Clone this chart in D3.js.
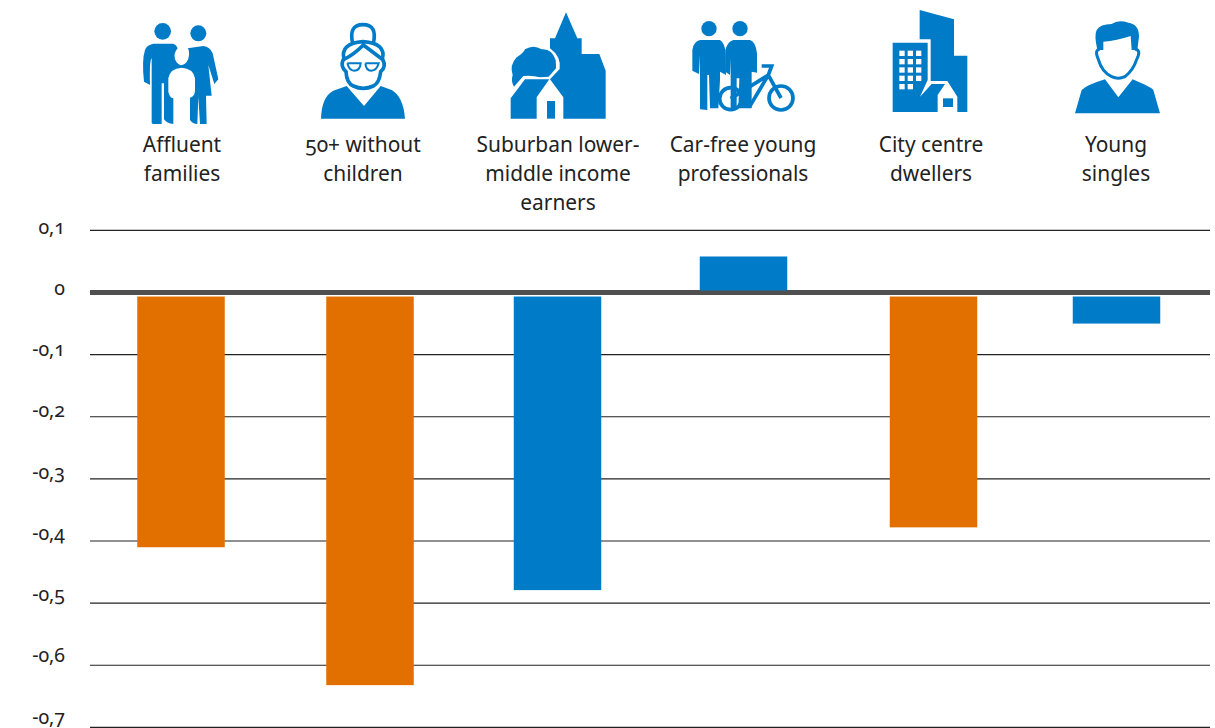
<!DOCTYPE html>
<html><head><meta charset="utf-8">
<script src="https://cdn.jsdelivr.net/npm/d3@7"></script>
<style>
html,body{margin:0;padding:0;background:#fff}
svg{display:block}
text{font-family:"Noto Sans","Open Sans",sans-serif;fill:#222;font-feature-settings:"onum" 1;font-variant-numeric:oldstyle-nums}
</style></head><body><svg id="c" width="1215" height="728"></svg>
<script>
const categories=["Affluent families","50+ without children","Suburban lower-middle income earners","Car-free young professionals","City centre dwellers","Young singles"];
const labelLines=[["Affluent","families"],["50+ without","children"],["Suburban lower-","middle income","earners"],["Car-free young","professionals"],["City centre","dwellers"],["Young","singles"]];
const values=[-0.41,-0.632,-0.479,0.058,-0.378,-0.05];
const barColors=["#e17000","#e17000","#007bc7","#007bc7","#e17000","#007bc7"];
const ticks=[0.1,0,-0.1,-0.2,-0.3,-0.4,-0.5,-0.6,-0.7];
const tickLabels=["0,1","0","-0,1","-0,2","-0,3","-0,4","-0,5","-0,6","-0,7"];
const barCentres=[181,370,557.5,743.5,933.5,1116.5];
const labelCentres=[182,363,558,743,931,1116];
const barWidth=87.5, barGap=4;

const svg=d3.select("#c");
const y=d3.scaleLinear().domain([0.1,-0.7]).range([230.4,727.4]);
const yLabel=d3.scaleLinear().domain([0.1,-0.7]).range([233.5,723.5]);

svg.append("g").selectAll("line").data(ticks).join("line")
  .attr("x1",90).attr("x2",1210)
  .attr("y1",d=>y(d)).attr("y2",d=>y(d))
  .attr("stroke",d=>d===0?"#4f4f4f":"#222")
  .attr("stroke-width",d=>d===0?5:1.1);

svg.append("g").selectAll("rect").data(values).join("rect")
  .attr("x",(d,i)=>barCentres[i]-barWidth/2)
  .attr("width",barWidth)
  .attr("y",d=>d<0?y(0)+barGap:y(d))
  .attr("height",d=>d<0?y(d)-y(0)-barGap:y(0)-y(d)-2)
  .attr("fill",(d,i)=>barColors[i]);

svg.append("g").selectAll("text").data(ticks).join("text")
  .attr("x",65).attr("text-anchor","end").attr("y",d=>yLabel(d))
  .attr("font-size",19.5).text((d,i)=>tickLabels[i]);

const lab=svg.append("g").selectAll("g").data(labelLines).join("g");
lab.selectAll("text").data((d,i)=>d.map(t=>({t,x:labelCentres[i]}))).join("text")
  .attr("x",d=>d.x).attr("text-anchor","middle")
  .attr("y",(d,j)=>151.6+29*j).attr("font-size",20.9).text(d=>d.t);

// Pictograms, drawn in a 3x local grid
const B="#007bc7";
const icons=svg.append("g");
function icon(ox){return icons.append("g").attr("transform",`translate(${ox},0) scale(${1/3})`).attr("fill",B);}
function c(g,x,y,r,f){g.append("circle").attr("cx",x).attr("cy",y).attr("r",r).attr("fill",f||B);}
function p(g,d,o){const e=g.append("path").attr("d",d);if(o)Object.entries(o).forEach(([k,v])=>e.attr(k,v));return e;}

// family
let g=icon(120);
c(g,128,94,25);c(g,235,100,24);
p(g,"M100,131 H160 Q170,135 173,145 Q160,160 165,178 Q172,195 185,196 Q205,190 207,165 Q208,150 203,145 L250,138 Q270,140 278,160 L295,238 L283,252 L265,195 L275,287 H258 L260,372 H240 L235,290 L232,372 Q218,372 210,360 V293 Q225,290 225,270 V235 Q220,205 185,203 Q150,205 145,235 V275 Q148,292 160,295 V372 Q140,370 132,358 V250 H125 V372 H105 Q95,372 95,368 V175 Q88,180 90,255 L72,245 Q65,180 75,150 Q80,135 100,131 Z");

// grandma
g=icon(120);
const sw={fill:"none",stroke:B,"stroke-width":11};
p(g,"M603,356 Q605,290 640,272 L680,258 L732,318 L782,258 L815,270 Q850,290 855,356 Z");
p(g,"M698,130 Q685,74 729,74 Q773,74 760,130",sw);
p(g,"M672,178 Q660,130 729,125 Q800,130 787,178 Q770,165 730,135 Q700,165 672,178 Z",sw);
p(g,"M670,178 Q660,200 678,215 Q680,250 700,258 Q730,272 760,258 Q778,250 782,215 Q800,200 788,178",sw);
p(g,"M682,190 H722 Q720,212 702,212 Q688,212 682,190 M736,190 H776 Q770,212 754,212 Q738,212 736,190",{fill:"none",stroke:B,"stroke-width":6});

// suburb
g=icon(490);
p(g,"M228,37 L262,115 H275 V162 H328 L347,212 V356 H220 V292 L180,238 L209,207 Q214,170 180,145 V115 H195 Z");
p(g,"M62,356 V295 L105,238 L152,238 L178,238 L140,292 V356 Z");
p(g,"M171,303 H195 V356 H171 Z");
p(g,"M72,260 Q62,245 68,225 Q58,195 80,172 Q100,160 105,148 Q130,132 155,148 Q185,145 197,180 Q198,195 198,205 L176,230 L150,232 Q125,225 100,228 Z");

// people and bicycle
g=icon(490);
c(g,657,86,23);c(g,750,86,23);
p(g,"M630,120 H690 Q705,130 707,160 L708,225 L690,215 V240 L685,325 H660 L657,225 H652 V330 L630,328 V165 L627,222 L607,212 V150 Q610,125 630,120 Z");
p(g,"M730,120 H780 Q797,125 801,160 V218 L785,215 V325 H745 L748,235 H740 V325 H722 V175 L720,225 L706,215 V150 Q712,125 730,120 Z");
const ws={fill:"none",stroke:B,"stroke-width":11};
g.append("circle").attr("cx",722).attr("cy",296).attr("r",33).attr("fill","none").attr("stroke",B).attr("stroke-width",11);
g.append("circle").attr("cx",873).attr("cy",294).attr("r",36).attr("fill","none").attr("stroke",B).attr("stroke-width",11);
p(g,"M722,296 L835,225 L873,294 M815,198 H845 L835,225 M745,318 H780 L835,225",ws);

// city
g=icon(870);
p(g,"M149,30 L252,58 V167 H292 V336 H262 V290 L232,243 H182 V118 H149 Z");
p(g,"M68,128 H173 V240 L150,290 L185,252 H225 L203,285 V336 H68 Z");
p(g,"M219,295 H249 V321 H219 Z");
const wx=[88,113,138], wy=[152,177,202,227,252];
wy.forEach((yy,r)=>wx.forEach((xx,k)=>{ if(!(r===4&&k===2)) g.append("rect").attr("x",xx).attr("y",yy).attr("width",16).attr("height",16).attr("fill","#fff");}));

// single
g=icon(870);
p(g,"M615,340 L635,270 Q650,255 705,238 L745,292 L788,238 Q845,262 850,270 L870,340 Z");
p(g,"M682,150 Q672,105 680,90 Q690,72 725,72 Q745,58 775,68 Q807,72 807,110 L802,150 L785,150 L782,108 Q740,122 700,125 V150 Z");
p(g,"M690,147 Q672,150 685,178 Q695,215 725,230 Q745,240 765,230 Q790,210 800,178 Q815,150 795,147",{fill:"none",stroke:B,"stroke-width":9});
</script></body></html>
